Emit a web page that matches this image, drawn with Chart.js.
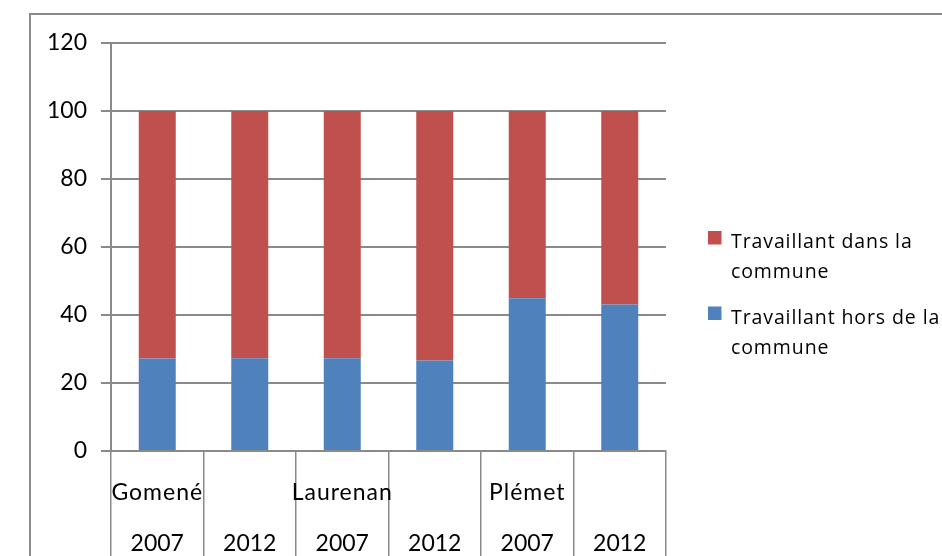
<!DOCTYPE html>
<html lang="fr">
<head>
  <meta charset="UTF-8" />
  <title>Lieu de travail des actifs</title>
  <script src="https://cdn.jsdelivr.net/npm/chart.js"></script>
  <style>
    html, body { margin: 0; padding: 0; background: #fff; }
    #wrap { width: 942px; height: 556px; position: relative; }
  </style>
</head>
<body>
  <div id="wrap"><canvas id="chart"></canvas></div>

  <script>
    // communes (first label row) and years (second label row)
    const groups = ['Gomené', '', 'Laurenan', '', 'Plémet', ''];
    const years = ['2007', '2012', '2007', '2012', '2007', '2012'];

    // share of working residents, in %
    const horsCommune = [27.2, 27.3, 27.3, 26.6, 44.9, 43.1];
    const dansCommune = [72.8, 72.7, 72.7, 73.4, 55.1, 56.9];

    const yTicks = [0, 20, 40, 60, 80, 100, 120];

    const GRID = '#8a8a8a';
    const FONT = 'Lato, "Open Sans", sans-serif';

    // frame around the whole chart + two-row category labels under the axis
    const frameAndLabels = {
      id: 'frameAndLabels',
      afterDraw(chart) {
        const ctx = chart.ctx;
        const x = chart.scales.x;
        ctx.save();
        ctx.strokeStyle = GRID;
        ctx.lineWidth = 2;
        ctx.beginPath();
        ctx.moveTo(30, 560);
        ctx.lineTo(30, 14);
        ctx.lineTo(950, 14);
        ctx.stroke();

        ctx.fillStyle = '#000';
        ctx.font = '23px ' + FONT;
        ctx.textAlign = 'center';
        ctx.textBaseline = 'alphabetic';
        years.forEach((yr, i) => {
          const px = x.getPixelForValue(i);
          ctx.letterSpacing = '1px';
          if (groups[i]) ctx.fillText(groups[i], px, 500);
          ctx.letterSpacing = '0px';
          ctx.fillText(yr, px, 551);
        });
        ctx.restore();
      }
    };

    // legend on the right, wrapped on two lines, top entry = top of the stack
    const sideLegend = {
      id: 'sideLegend',
      afterDraw(chart) {
        const ctx = chart.ctx;
        const sets = chart.data.datasets.slice().reverse();
        ctx.save();
        ctx.font = '19.5px "Open Sans", sans-serif';
        ctx.letterSpacing = '0.9px';
        ctx.textAlign = 'left';
        ctx.textBaseline = 'alphabetic';
        let base = 248;
        sets.forEach(ds => {
          ctx.fillStyle = ds.backgroundColor;
          ctx.fillRect(708, base - 17, 13.5, 13.5);
          ctx.fillStyle = '#000';
          const lines = wrap(ctx, ds.label, 213);
          lines.forEach((ln, k) => ctx.fillText(ln, 731, base + k * 30));
          base += 75.5;
        });
        ctx.restore();
      }
    };

    function wrap(ctx, text, maxW) {
      const words = text.split(' ');
      const lines = [];
      let cur = '';
      words.forEach(w => {
        const test = cur ? cur + ' ' + w : w;
        if (cur && ctx.measureText(test).width > maxW) {
          lines.push(cur);
          cur = w;
        } else {
          cur = test;
        }
      });
      if (cur) lines.push(cur);
      return lines;
    }

    new Chart(document.getElementById('chart'), {
      type: 'bar',
      data: {
        labels: years,
        datasets: [
          {
            label: 'Travaillant hors de la commune',
            data: horsCommune,
            backgroundColor: '#4F81BD',
            barPercentage: 0.4,
            categoryPercentage: 1
          },
          {
            label: 'Travaillant dans la commune',
            data: dansCommune,
            backgroundColor: '#C0504D',
            barPercentage: 0.4,
            categoryPercentage: 1
          }
        ]
      },
      options: {
        responsive: true,
        maintainAspectRatio: false,
        animation: false,
        layout: { padding: { top: 43, right: 276, bottom: 0, left: 0 } },
        plugins: {
          legend: { display: false },
          tooltip: { enabled: false }
        },
        scales: {
          x: {
            stacked: true,
            offset: true,
            grid: {
              offset: true,
              drawOnChartArea: false,
              color: GRID,
              lineWidth: 1.5,
              tickLength: 105
            },
            border: { display: true, color: GRID, width: 2 },
            ticks: { display: false },
            afterFit(scale) { scale.height = 105; }
          },
          y: {
            stacked: true,
            min: 0,
            max: 120,
            afterBuildTicks(scale) {
              scale.ticks = yTicks.map(v => ({ value: v }));
            },
            grid: { color: GRID, lineWidth: 2, tickLength: 10 },
            border: { display: true, color: GRID, width: 2 },
            ticks: {
              color: '#000',
              padding: 14,
              font: { family: FONT, size: 23 }
            },
            afterFit(scale) { scale.width = 111; }
          }
        }
      },
      plugins: [frameAndLabels, sideLegend]
    });
  </script>
</body>
</html>
